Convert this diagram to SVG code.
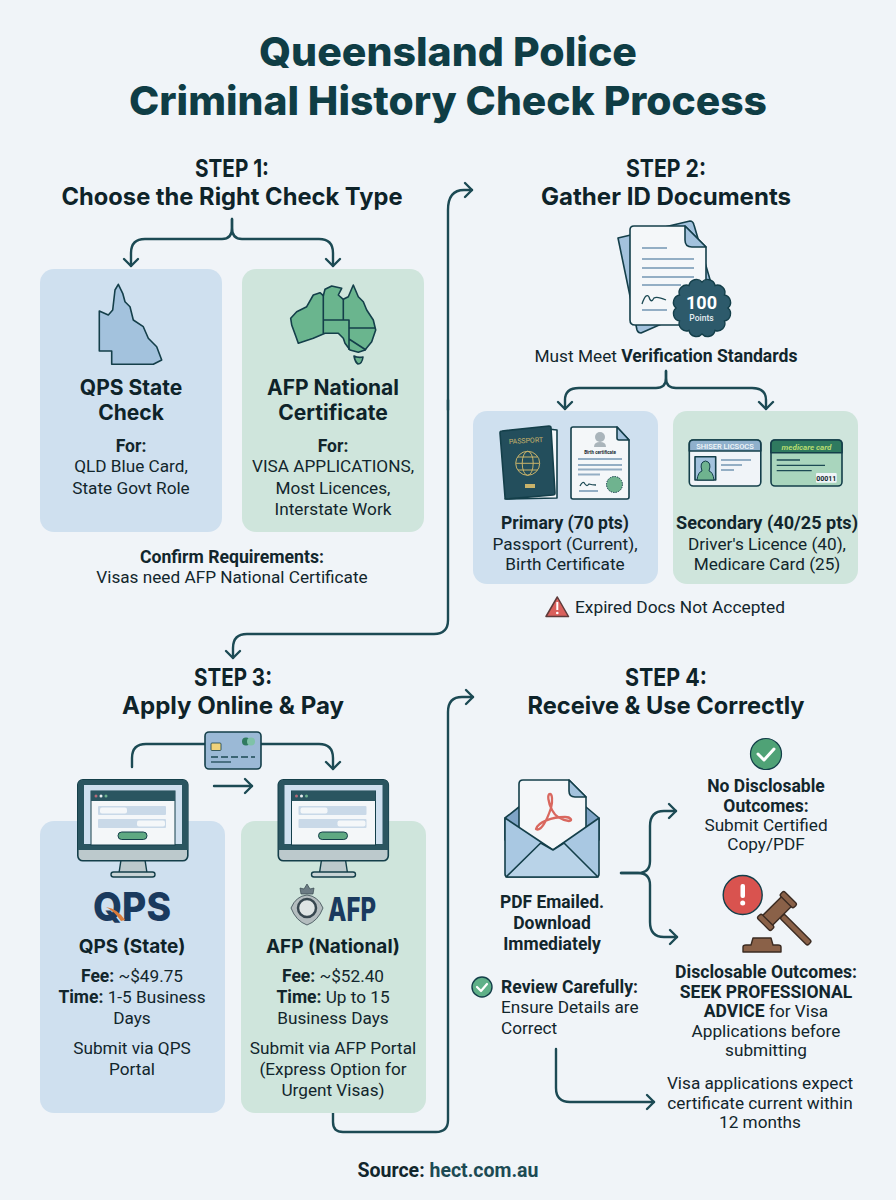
<svg xmlns="http://www.w3.org/2000/svg" width="896" height="1200" viewBox="0 0 896 1200">
<style>
text{font-family:Roboto,"Liberation Sans",sans-serif;fill:#12262c;text-anchor:middle}
.t{font-family:Inter,"Liberation Sans",sans-serif;font-weight:800;font-size:40px;fill:#0f3d45}
.h{font-family:Inter,"Liberation Sans",sans-serif;font-weight:700;font-size:24px;fill:#0e2329}
.n{font-family:Inter,"Liberation Sans",sans-serif;font-weight:700;font-size:21px;fill:#0e2329}
.m{font-family:Inter,"Liberation Sans",sans-serif;font-weight:700;font-size:19px;fill:#0e2329}
.b{font-size:17.200px}
.s{font-weight:700;font-size:17.500px}
.l{text-anchor:start}
.blue{fill:#cfe0ef}
.green{fill:#cfe5dc}
.c{fill:none;stroke:#1c4a54;stroke-width:2.4;stroke-linecap:round;stroke-linejoin:round}
.o{stroke:#143f4a;stroke-width:1.6;stroke-linejoin:round}
.ln{stroke:#93aec4;stroke-width:1.8;fill:none}
.dk{stroke:#1c4a54;stroke-width:1.3;fill:none}
.lg{font-family:Inter,"Liberation Sans",sans-serif;font-weight:800;fill:#1a3a5e}
</style>
<defs>
<marker id="a" markerUnits="userSpaceOnUse" markerWidth="20" markerHeight="20" refX="10" refY="10" orient="auto" overflow="visible">
<path d="M3 3L10 10L3 17" fill="none" stroke="#1c4a54" stroke-width="2.4" stroke-linecap="round" stroke-linejoin="round"/>
</marker>
<symbol id="monitor" width="112" height="100" viewBox="0 0 112 100" overflow="visible">
<path d="M44 81H68L70 94H42Z" fill="#bcc9cc" stroke="#143f4a" stroke-width="1.4"/>
<rect x="34" y="93" width="44" height="5" rx="2.5" fill="#c9d4d6" stroke="#143f4a" stroke-width="1.4"/>
<rect x="0.8" y="0.8" width="110" height="81" rx="5" fill="#bcc9cc" stroke="#143f4a" stroke-width="1.6"/>
<path d="M1 71V6Q1 1 6 1H106Q111 1 111 6V71Z" fill="#2a5560"/>
<rect x="7" y="6" width="98" height="59" fill="#cfe0ef"/>
<rect x="14" y="12" width="84" height="54" fill="#f4f7f9" stroke="#143f4a" stroke-width="1"/>
<rect x="14" y="12" width="84" height="10" fill="#2a5560"/>
<circle cx="19" cy="17" r="1.5" fill="#b56b78"/><circle cx="24" cy="17" r="1.5" fill="#e8edf0"/><circle cx="29" cy="17" r="1.5" fill="#6fb38f"/>
<rect x="21" y="27" width="68" height="9" rx="1" fill="#c9d9e8"/><rect x="23" y="28.500" width="27" height="6" rx="2" fill="#f4f7f9"/>
<rect x="21" y="40" width="68" height="9" rx="1" fill="#c9d9e8"/><rect x="60" y="41.500" width="28" height="6" rx="2" fill="#f4f7f9"/>
<rect x="41" y="53" width="29" height="7.500" rx="3.700" fill="#5fa982" stroke="#143f4a" stroke-width="1"/>
</symbol>
</defs>
<rect width="896" height="1200" fill="#f0f4f8"/>

<g id="title">
<text class="t" x="448" y="66" textLength="378" lengthAdjust="spacingAndGlyphs">Queensland Police</text>
<text class="t" x="448" y="115" textLength="638" lengthAdjust="spacingAndGlyphs">Criminal History Check Process</text>
</g>

<g id="connectors" class="c">
<path d="M232 219V228Q232 239 222 239H145Q131 239 131 253V266" marker-end="url(#a)"/>
<path d="M232 219V228Q232 239 242 239H319Q333 239 333 253V266" marker-end="url(#a)"/>
<path d="M448 410V210Q448 190 464 190H472" marker-end="url(#a)"/>
<path d="M448 400V620Q448 634 434 634H247Q233 634 233 648V658" marker-end="url(#a)"/>
<path d="M666 371V378Q666 388 656 388H579Q565 388 565 400V409" marker-end="url(#a)"/>
<path d="M666 371V378Q666 388 676 388H752Q766 388 766 400V409" marker-end="url(#a)"/>
<path d="M132 767V758Q132 744 146 744H205"/>
<path d="M261 744H319Q333 744 333 758V769" marker-end="url(#a)"/>
<path d="M214 786H252" marker-end="url(#a)"/>
<path d="M333 1113V1122Q333 1132 343 1132H436Q448 1132 448 1120V712Q448 697 462 697H473" marker-end="url(#a)"/>
<path d="M621 873H638Q650 873 650 861V826Q650 811 664 811H676" marker-end="url(#a)"/>
<path d="M621 873H638Q650 873 650 885V922Q650 937 664 937H677" marker-end="url(#a)"/>
<path d="M556 1049V1088Q556 1102 570 1102H654" marker-end="url(#a)"/>
</g>

<g id="step1">
<text class="h" x="232" y="177" textLength="74" lengthAdjust="spacingAndGlyphs">STEP 1:</text>
<text class="h" x="232" y="205" textLength="341" lengthAdjust="spacingAndGlyphs">Choose the Right Check Type</text>
</g>
<g id="qps-state-check">
<rect class="blue" x="40" y="269" width="182" height="263" rx="14"/>
<path class="o" fill="#a3c2dd" d="M99.300 311L108.300 315L112.700 310L115 290L118.300 284.300L122.700 293.300L125 301.700L130 306.700L133.300 320L143.300 326.700L148.300 338.300L156.700 346.700L161.700 360L153.300 364.300H111.700V351H99.300Z"/>
<text class="n" x="131" y="395">QPS State</text>
<text class="n" x="131" y="420">Check</text>
<text class="b s" x="131" y="452">For:</text>
<text class="b" x="131" y="472">QLD Blue Card,</text>
<text class="b" x="131" y="494">State Govt Role</text>
</g>
<g id="afp-national-certificate">
<rect class="green" x="242" y="269" width="182" height="263" rx="14"/>
<path class="o" fill="#6ab58e" d="M290.700 318.300L296.700 311.700L306.700 306.700L313.300 295L320 292.700L323.300 295.700L325 289.300L331.700 286L341.700 288.300L338.300 295L343.300 299.300L348.300 296.700L353.300 285L358.300 296.700L363.300 301.700L366.700 310L373.300 320L375.700 330L371.700 341.700L365 350L358.300 352.300L350 350L345 343.300L343.300 338.300L338.300 333.300H325L313.300 338.300L298.300 343.300L296 336.700L291.700 325Z"/>
<path class="o" fill="none" d="M323.300 295V333.300M343.300 299.300V320M323.300 320H349V350M349 328H375M349 339L366 350"/>
<path class="o" fill="#6ab58e" d="M354 356Q358 358 363 357Q362 364 358 364Q355 362 354 356Z"/>
<text class="n" x="333" y="395">AFP National</text>
<text class="n" x="333" y="420">Certificate</text>
<text class="b s" x="333" y="452">For:</text>
<text class="b" x="333" y="472">VISA APPLICATIONS,</text>
<text class="b" x="333" y="494">Most Licences,</text>
<text class="b" x="333" y="515">Interstate Work</text>
</g>
<g id="confirm-requirements">
<text class="b s" x="232" y="563" textLength="184" lengthAdjust="spacingAndGlyphs">Confirm Requirements:</text>
<text class="b" x="232" y="583">Visas need AFP National Certificate</text>
</g>

<g id="step2">
<text class="h" x="666" y="177" textLength="80" lengthAdjust="spacingAndGlyphs">STEP 2:</text>
<text class="h" x="666" y="205" textLength="250" lengthAdjust="spacingAndGlyphs">Gather ID Documents</text>
</g>
<g id="documents-icon">
<path class="o" fill="#a3c2dd" d="M618 238L690 221Q693 221 694 225L716 300L641 333Q638 333 637 330Z"/>
<path class="o" fill="#f4f7f9" d="M634 226H685L706 247V320Q706 325 701 325H635Q630 325 630 320V230Q630 226 634 226Z"/>
<path class="o" fill="#a3c2dd" d="M685 226V240Q685 247 692 247H706Z"/>
<path class="ln" d="M642 248H667M642 259H694M642 268H694M642 277H694M642 285H681M642 310H667"/>
<path class="dk" d="M642 304Q646 292 649 297Q651 304 654 298Q657 296 666 300"/>
<path fill="#2d5a6b" stroke="#143f4a" stroke-width="1.4" d="M728 308A7.500 7.500 0 0 1 724.500 321A7.500 7.500 0 0 1 715 330.500A7.500 7.500 0 0 1 702 334A7.500 7.500 0 0 1 689 330.500A7.500 7.500 0 0 1 679.500 321A7.500 7.500 0 0 1 676 308A7.500 7.500 0 0 1 679.500 295A7.500 7.500 0 0 1 689 285.500A7.500 7.500 0 0 1 702 282A7.500 7.500 0 0 1 715 285.500A7.500 7.500 0 0 1 724.500 295A7.500 7.500 0 0 1 728 308Z"/>
<text x="701.500" y="309" font-size="18" font-weight="700" style="fill:#fff">100</text>
<text x="701.500" y="321" font-size="8.500" font-weight="500" style="fill:#e6eef2">Points</text>
</g>
<text id="verification" class="b" x="666" y="362" textLength="263" lengthAdjust="spacingAndGlyphs">Must Meet <tspan class="s">Verification Standards</tspan></text>
<g id="primary">
<rect class="blue" x="473" y="411" width="185" height="173" rx="14"/>
<path class="o" fill="#f4f7f9" d="M548 429L557 430L557 498L505 499Z"/>
<path class="o" fill="#234e5c" d="M502 431L549 426Q551 426 551 428L555 493Q555 495 553 495L507 499Q505 499 505 497L500 433Q500 431 502 431Z"/>
<text transform="rotate(-3 526 443)" x="526" y="443" font-size="7" style="fill:#c9b36a">PASSPORT</text>
<g fill="none" stroke="#c9b36a" stroke-width="1"><circle cx="527.700" cy="463.300" r="12"/><ellipse cx="527.700" cy="463.300" rx="5.500" ry="12"/><path d="M516 463.300H539.500M518 457H537.500M518 470H537.500"/></g>
<rect x="525" y="484" width="10" height="4" fill="#c9b36a"/>
<path class="o" fill="#f4f7f9" d="M573 427H617L629 440V497Q629 499 627 499H573Q571 499 571 497V429Q571 427 573 427Z"/>
<path class="o" fill="#a3c2dd" d="M617 427V438Q617 440 619 440H629Z"/>
<circle cx="600" cy="437" r="5" fill="#aab5bb"/><path d="M594 447Q594 442 600 442Q606 442 606 447Z" fill="#aab5bb"/>
<text x="600" y="454" font-size="4.500" font-weight="700">Birth certificate</text>
<path class="ln" stroke-width="1.200" d="M578 459H622M578 465H622M578 469.500H622M578 474.500H600M579 491H598"/>
<path class="dk" d="M580 486Q583 480 585 484Q587 487 589 484Q592 485 596 485"/>
<circle cx="614.500" cy="484.500" r="8" fill="#6fb38f" stroke="#143f4a" stroke-width="1" stroke-dasharray="1.500 1"/>
<text class="b s" x="565" y="529" textLength="128" lengthAdjust="spacingAndGlyphs">Primary (70 pts)</text>
<text class="b" x="565" y="550">Passport (Current),</text>
<text class="b" x="565" y="570">Birth Certificate</text>
</g>
<g id="secondary">
<rect class="green" x="673" y="411" width="185" height="173" rx="14"/>
<rect class="o" x="689.300" y="440" width="71.500" height="46" rx="4" fill="#f0f4f8"/>
<path class="o" fill="#8fb0cc" d="M689.300 451V444Q689.300 440 693.300 440H756.800Q760.800 440 760.800 444V451Z"/>
<text x="725" y="449" font-size="7.500" font-weight="500" style="fill:#f4f7f9">SHISER LICSOCS</text>
<rect class="o" x="695" y="456.700" width="20.700" height="23.300" fill="#a3c2dd"/>
<path d="M697 480Q698 472 702 471Q699 462 705.500 461Q712 462 709 471Q713 472 714 480Z" fill="#6fb38f" stroke="#143f4a" stroke-width="1"/>
<path class="ln" d="M721 460H751M721 465H742M721 470H734"/>
<rect class="o" x="771" y="440" width="71" height="46" rx="4" fill="#a9d5bd"/>
<path class="o" fill="#2f7a5f" d="M771 452.700V444Q771 440 775 440H838Q842 440 842 444V452.700Z"/>
<text x="806.500" y="450" font-size="8" font-style="italic" font-weight="700" style="fill:#b7dc70">medicare card</text>
<path class="dk" d="M776.700 460H800M776.700 465.300H825M776.700 470.700H811.700"/>
<rect x="816" y="473" width="20.700" height="9.700" rx="1" fill="#f0f4f8"/>
<text x="826.300" y="481" font-size="7" font-weight="700">00011</text>
<text class="b s" x="767" y="529" textLength="182" lengthAdjust="spacingAndGlyphs">Secondary (40/25 pts)</text>
<text class="b" x="767" y="550">Driver's Licence (40),</text>
<text class="b" x="767" y="570">Medicare Card (25)</text>
</g>
<g id="expired-docs">
<path d="M557.300 597L568.500 616.500H546Z" fill="#d9605c" stroke="#5e3b3b" stroke-width="1.500" stroke-linejoin="round"/>
<rect x="556.300" y="602" width="2" height="8" fill="#fff"/><circle cx="557.300" cy="613" r="1.300" fill="#fff"/>
<text class="b l" x="575" y="613" textLength="210" lengthAdjust="spacingAndGlyphs">Expired Docs Not Accepted</text>
</g>

<g id="step3">
<text class="h" x="233" y="686" textLength="78" lengthAdjust="spacingAndGlyphs">STEP 3:</text>
<text class="h" x="233" y="714" textLength="222" lengthAdjust="spacingAndGlyphs">Apply Online &amp; Pay</text>
</g>
<g id="credit-card">
<rect class="o" x="205" y="732" width="56" height="37" rx="4" fill="#9bb9d6"/>
<rect x="211" y="743" width="10" height="7.500" rx="1" fill="#f0d27a" stroke="#143f4a" stroke-width="0.800"/>
<circle cx="246" cy="741.500" r="4" fill="#2f7a5f"/><circle cx="251" cy="741.500" r="4" fill="#7fc2a8"/>
<path class="dk" d="M211 757H255" stroke-dasharray="7 3"/><path class="dk" d="M211 762H231"/>
</g>
<g id="qps-state">
<rect class="blue" x="40" y="821" width="185" height="292" rx="14"/>
<use href="#monitor" x="77" y="779"/>
<text class="lg" x="132" y="921" font-size="39" textLength="78" lengthAdjust="spacingAndGlyphs">QPS</text>
<path d="M106 907Q114 911 121 921L125 920Q118 909 106 907Z" fill="#d97b3a"/>
<text class="m" x="132" y="953">QPS (State)</text>
<text class="b" x="132" y="982"><tspan class="s">Fee:</tspan> ~$49.75</text>
<text class="b" x="132" y="1003"><tspan class="s">Time:</tspan> 1-5 Business</text>
<text class="b" x="132" y="1024">Days</text>
<text class="b" x="132" y="1054">Submit via QPS</text>
<text class="b" x="132" y="1075">Portal</text>
</g>
<g id="afp-national">
<rect class="green" x="241" y="821" width="185" height="292" rx="14"/>
<use href="#monitor" x="277.500" y="779"/>
<path d="M301 894H313L314 888L310 889L307 884L304 889L300 888Z" fill="#6c7c84" stroke="#37474f" stroke-width="0.700"/>
<path d="M291 908Q296 896 307 895Q318 896 323 908Q318 921 307 925Q296 921 291 908Z" fill="#b4bdbf" stroke="#37474f" stroke-width="0.800"/>
<circle cx="307" cy="908" r="9" fill="#dfe5e4" stroke="#37474f" stroke-width="2.500"/>
<text class="lg" x="352" y="921" font-size="32" textLength="48" lengthAdjust="spacingAndGlyphs">AFP</text>
<text class="m" x="333" y="953">AFP (National)</text>
<text class="b" x="333" y="982"><tspan class="s">Fee:</tspan> ~$52.40</text>
<text class="b" x="333" y="1003"><tspan class="s">Time:</tspan> Up to 15</text>
<text class="b" x="333" y="1024">Business Days</text>
<text class="b" x="333" y="1054">Submit via AFP Portal</text>
<text class="b" x="333" y="1075">(Express Option for</text>
<text class="b" x="333" y="1096">Urgent Visas)</text>
</g>

<g id="step4">
<text class="h" x="666" y="686" textLength="82" lengthAdjust="spacingAndGlyphs">STEP 4:</text>
<text class="h" x="666" y="714" textLength="277" lengthAdjust="spacingAndGlyphs">Receive &amp; Use Correctly</text>
</g>
<g id="pdf-emailed">
<path class="o" fill="#7fa4c6" d="M505 818L519 807H586L599 818V840H505Z"/>
<path class="o" fill="#f4f7f9" d="M523 780H569L586 797V840L553 852L519 840V784Q519 780 523 780Z"/>
<path class="o" fill="#a3c2dd" d="M569 780V791Q569 797 575 797H586Z"/>
<path fill="none" stroke="#d9685f" stroke-width="2.300" stroke-linejoin="round" d="M536 829C541 832 547 820 551 808C553 800 552 794 550 794C547 794 548 802 552 810C556 818 562 820 569 821C573 821 571 817 565 817C552 817 538 822 536 829Z"/>
<path class="o" fill="#a9c8e2" d="M505 818L553 850L599 818V874Q599 877 596 877H508Q505 877 505 874Z"/>
<path class="o" fill="#b9d3e8" d="M506 877L540.700 843L553 850L564 843L598 877Z"/>
<text class="b s" x="552" y="908" textLength="104" lengthAdjust="spacingAndGlyphs">PDF Emailed.</text>
<text class="b s" x="552" y="929">Download</text>
<text class="b s" x="552" y="950">Immediately</text>
</g>
<g id="no-disclosable">
<circle cx="766" cy="754" r="15.500" fill="#4fa276" stroke="#143f4a" stroke-width="1.200"/>
<path d="M758 754L764 760L774 749" fill="none" stroke="#fff" stroke-width="3" stroke-linecap="round" stroke-linejoin="round"/>
<text class="b s" x="766" y="792">No Disclosable</text>
<text class="b s" x="766" y="812">Outcomes:</text>
<text class="b" x="766" y="831">Submit Certified</text>
<text class="b" x="766" y="850">Copy/PDF</text>
</g>
<g id="disclosable">
<circle cx="742.700" cy="895" r="19.500" fill="#d9534f" stroke="#143f4a" stroke-width="1.400"/>
<rect x="740.500" y="884" width="4.500" height="14" rx="2" fill="#fff"/><circle cx="742.700" cy="903" r="2.500" fill="#fff"/>
<g fill="#8a6148" stroke="#3b2b22" stroke-width="1.400" stroke-linejoin="round">
<g transform="translate(777 911) rotate(-45)">
<rect x="-3" y="7" width="6" height="39" rx="2"/>
<rect x="-14" y="-7" width="28" height="14"/>
<rect x="-19" y="-9.500" width="6" height="19" rx="2"/>
<rect x="13" y="-9.500" width="6" height="19" rx="2"/>
</g>
<path d="M743 952V947Q743 945 746 945H751L753 938H771L773 945H778Q781 945 781 947V952Z"/>
</g>
<text class="b s" x="766" y="978" textLength="182" lengthAdjust="spacingAndGlyphs">Disclosable Outcomes:</text>
<text class="b s" x="766" y="998">SEEK PROFESSIONAL</text>
<text class="b" x="766" y="1017"><tspan class="s">ADVICE</tspan> for Visa</text>
<text class="b" x="766" y="1037">Applications before</text>
<text class="b" x="766" y="1056">submitting</text>
</g>
<g id="review">
<circle cx="482" cy="987" r="10" fill="#5fb088" stroke="#143f4a" stroke-width="1.400"/>
<path d="M477 987L481 991L487 984" fill="none" stroke="#fff" stroke-width="2.200" stroke-linecap="round" stroke-linejoin="round"/>
<text class="b s l" x="501" y="993" textLength="137" lengthAdjust="spacingAndGlyphs">Review Carefully:</text>
<text class="b l" x="501" y="1013">Ensure Details are</text>
<text class="b l" x="501" y="1034">Correct</text>
</g>
<g id="visa-note">
<text class="b" x="760" y="1089">Visa applications expect</text>
<text class="b" x="760" y="1109">certificate current within</text>
<text class="b" x="760" y="1128">12 months</text>
</g>
<text id="source" x="448" y="1177" font-size="19.500" font-weight="700">Source: <tspan style="fill:#1c4a54">hect.com.au</tspan></text>
</svg>
